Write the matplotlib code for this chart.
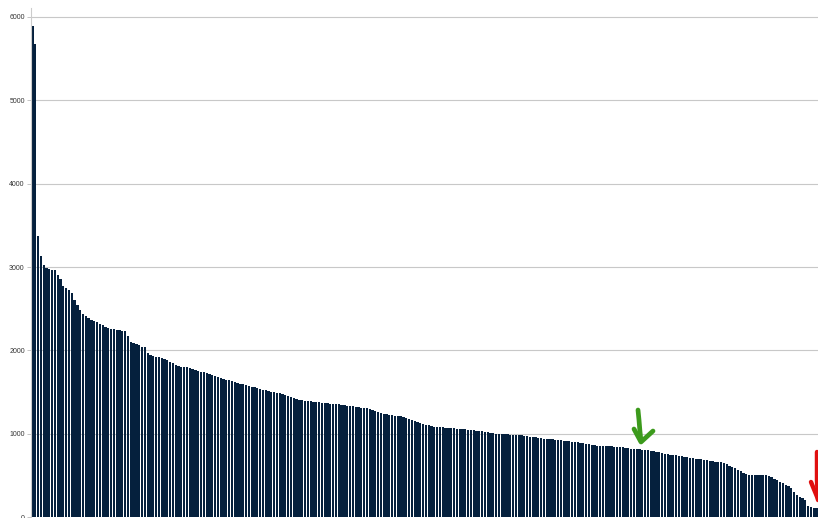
import matplotlib
matplotlib.use("Agg")
import matplotlib.pyplot as plt
import numpy as np

values = [
    5890, 5670, 3370, 3130, 3020, 2990, 2975, 2965, 2960, 2900,
    2860, 2770, 2745, 2720, 2690, 2610, 2540, 2480, 2440, 2410,
    2385, 2365, 2355, 2345, 2320, 2300, 2285, 2270, 2262, 2255,
    2250, 2245, 2238, 2228, 2170, 2105, 2090, 2075, 2060, 2045,
    2035, 1965, 1945, 1935, 1925, 1915, 1905, 1895, 1885, 1860,
    1845, 1825, 1812, 1805, 1800, 1795, 1788, 1775, 1765, 1752,
    1742, 1735, 1725, 1712, 1700, 1688, 1678, 1668, 1658, 1648,
    1640, 1632, 1622, 1612, 1600, 1592, 1584, 1575, 1566, 1558,
    1548, 1540, 1530, 1520, 1512, 1505, 1498, 1492, 1486, 1475,
    1462, 1450, 1438, 1428, 1418, 1408, 1402, 1398, 1395, 1390,
    1386, 1382, 1378, 1374, 1370, 1366, 1362, 1358, 1355, 1352,
    1348, 1342, 1338, 1333, 1328, 1322, 1318, 1314, 1310, 1305,
    1295, 1282, 1270, 1258, 1248, 1240, 1232, 1226, 1222, 1218,
    1214, 1210, 1200, 1190, 1180, 1168, 1155, 1142, 1130, 1120,
    1110, 1100, 1092, 1086, 1082, 1078, 1075, 1072, 1070, 1068,
    1065, 1062, 1060, 1056, 1052, 1048, 1044, 1040, 1036, 1032,
    1028, 1022, 1016, 1010, 1005, 1002, 1000, 998, 995, 992,
    990, 988, 986, 984, 980, 975, 970, 965, 960, 955,
    950, 946, 942, 938, 935, 932, 928, 925, 922, 918,
    914, 910, 905, 900, 895, 890, 884, 878, 872, 868,
    862, 858, 856, 854, 852, 850, 848, 846, 844, 842,
    838, 832, 826, 820, 816, 814, 812, 810, 806, 800,
    795, 790, 782, 775, 768, 760, 754, 750, 746, 742,
    738, 732, 726, 720, 714, 708, 702, 698, 694, 688,
    680, 672, 668, 665, 662, 656, 645, 632, 618, 602,
    585, 565, 548, 530, 515, 508, 505, 504, 503, 502,
    501, 500, 498, 480, 460, 440, 425, 410, 390, 372,
    345, 300, 268, 245, 230, 205, 130, 115, 108, 105,
]
yticks = [0, 1000, 2000, 3000, 4000, 5000, 6000]

W, H = 818, 518
fig = plt.figure(figsize=(W / 100, H / 100), dpi=100)
ax = fig.add_axes([31 / W, 1 / H, 1 - 31 / W, 1 - 9 / H])

n = len(values)
x = np.arange(n)
ax.bar(x, values, width=0.8, color="#05203d", edgecolor="none",
       linewidth=0, zorder=2)
ax.set_xlim(-0.5, n - 0.5)
ax.set_ylim(0, 6108)
ax.set_yticks(yticks)
ax.set_yticklabels([str(v) for v in yticks], fontsize=5,
                   family="Liberation Sans", color="#333333")
ax.tick_params(axis="y", length=3, width=0.6, color="#bbbbbb", pad=1.5)
ax.set_xticks([])
ax.yaxis.grid(True, color="#c8c8c8", linewidth=0.8, zorder=0)
ax.set_axisbelow(True)
for s in ["top", "right", "bottom"]:
    ax.spines[s].set_visible(False)
ax.spines["left"].set_color("#cccccc")
ax.spines["left"].set_linewidth(0.8)

# hand-drawn arrows (figure pixel coordinates)
def px(xs, ys):
    return [xv / W for xv in xs], [1 - yv / H for yv in ys]

tr = fig.transFigure
gx, gy = px([638, 639, 640, 641], [410, 420, 432, 441])
fig.add_artist(plt.Line2D(gx, gy, transform=tr, color="#3c9a1c", lw=3.4,
                          solid_capstyle="round", solid_joinstyle="round"))
gx, gy = px([634, 641, 653], [429, 442, 431])
fig.add_artist(plt.Line2D(gx, gy, transform=tr, color="#3c9a1c", lw=3.4,
                          solid_capstyle="round", solid_joinstyle="round"))
rx, ry = px([817, 817, 818], [452, 480, 500])
fig.add_artist(plt.Line2D(rx, ry, transform=tr, color="#e01010", lw=3.2,
                          solid_capstyle="round"))
rx, ry = px([811, 818], [482, 499])
fig.add_artist(plt.Line2D(rx, ry, transform=tr, color="#e01010", lw=3.2,
                          solid_capstyle="round"))

fig.savefig("out.png", dpi=100)
